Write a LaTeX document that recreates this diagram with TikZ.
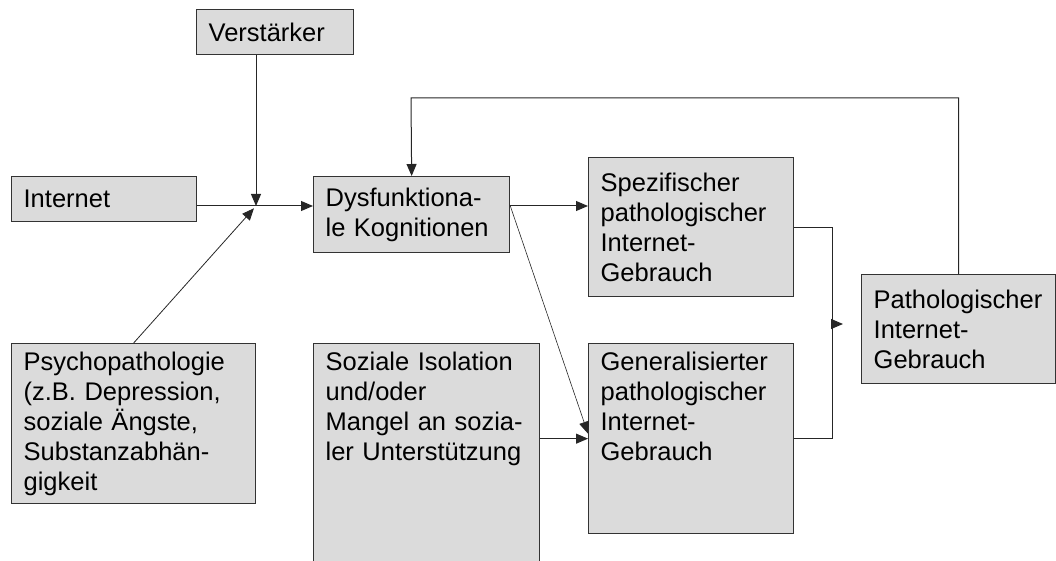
\documentclass[tikz,border=0pt]{standalone}
\usepackage{fontspec}
\setmainfont{Liberation Sans}
\usetikzlibrary{positioning,arrows.meta}

\begin{document}
\begin{tikzpicture}[x=1pt,y=-1pt,
  box/.style={draw=black!80,line width=1.3pt,fill=black!14,anchor=north west,align=left,
    inner xsep=12pt,inner ysep=8pt,font=\fontsize{25.5}{30}\selectfont},
  arr/.style={draw=black!85,line width=1pt,-{Triangle[length=12pt,width=10pt]}}]
  \useasboundingbox (0,0) rectangle (1056,561);
  \node[box,text width=133pt,minimum height=45pt] (verst) at (196,9) {Verstärker};
  \node[box,text width=161pt,minimum height=45pt] (inet) at (11,176) {Internet};
  \node[box,text width=172pt,minimum height=76pt] (dys) at (313,176) {Dysfunktiona-\\le Kognitionen};
  \node[box,text width=181pt,minimum height=139pt] (spez) at (588,157) {Spezifischer\\pathologischer\\Internet-\\Gebrauch};
  \node[box,text width=170pt,minimum height=109pt] (path) at (861,274) {Pathologischer\\Internet-\\Gebrauch};
  \node[box,text width=220pt,minimum height=134pt] (psy) at (11,343) {Psychopathologie\\(z.B. Depression,\\soziale Ängste,\\Substanzabhän-\\gigkeit};
  \node[box,text width=202pt,text height=19pt,text depth=195pt] (soz) at (313,343) {Soziale Isolation\\und/oder\\Mangel an sozia-\\ler Unterstützung};
  \node[box,text width=181pt,text height=19pt,text depth=155pt] (gen) at (588,343) {Generalisierter\\pathologischer\\Internet-\\Gebrauch};
  \coordinate (j) at (256,206);
  \coordinate (m) at (832,324);
  \coordinate (top) at (411,98);
  % inputs
  \draw[arr] (verst.south -| j) -- (j);
  \draw[arr,line width=0.8pt,shorten >=3pt] (psy.north) -- (j);
  \draw[arr] (inet.east |- j) -- (dys.west |- j);
  % out of the cognitions
  \draw[arr] (dys.east |- j) -- (spez.west |- j);
  \draw[arr,line width=0.6pt] (dys.east |- j) -- ([yshift=5pt]gen.west);
  \draw[arr] (soz.east |- gen.west) -- (gen.west);
  % merge and feedback
  \draw[draw=black!85,line width=1pt] (spez.east) -- (spez.east -| m) -- (gen.east -| m) -- (gen.east);
  \draw[arr,shorten >=18pt] (m) -- (path.west |- m);
  \draw[arr] (path.north) |- (top) -- (dys.north);
\end{tikzpicture}
\end{document}
